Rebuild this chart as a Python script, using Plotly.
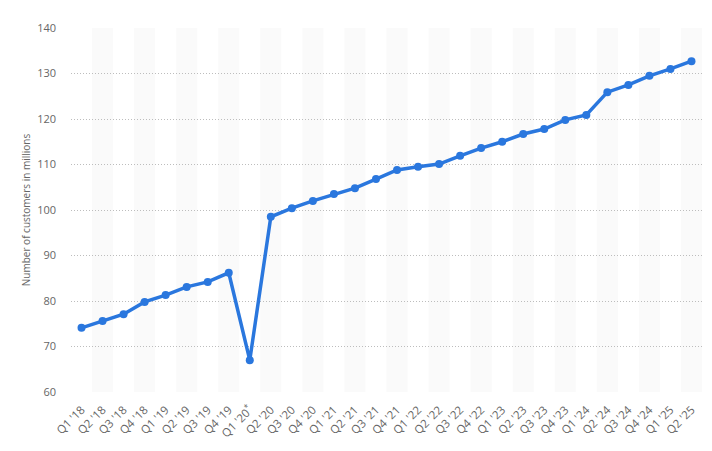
import plotly.graph_objects as go

quarters = ["Q1 '18", "Q2 '18", "Q3 '18", "Q4 '18", "Q1 '19", "Q2 '19", "Q3 '19", "Q4 '19",
            "Q1 '20<sup>*</sup>", "Q2 '20", "Q3 '20", "Q4 '20", "Q1 '21", "Q2 '21", "Q3 '21", "Q4 '21",
            "Q1 '22", "Q2 '22", "Q3 '22", "Q4 '22", "Q1 '23", "Q2 '23", "Q3 '23", "Q4 '23",
            "Q1 '24", "Q2 '24", "Q3 '24", "Q4 '24", "Q1 '25", "Q2 '25"]
customers = [74.1, 75.6, 77.1, 79.8, 81.3, 83.1, 84.2, 86.2,
             67.0, 98.5, 100.4, 102.0, 103.5, 104.8, 106.8, 108.8,
             109.5, 110.1, 111.9, 113.6, 115.0, 116.7, 117.8, 119.8,
             120.9, 125.9, 127.5, 129.5, 131.0, 132.7]
y_ticks = [60, 70, 80, 90, 100, 110, 120, 130, 140]

fig = go.Figure()
fig.add_trace(go.Scatter(
    x=list(range(len(quarters))), y=customers, mode="lines+markers",
    line=dict(color="#2a77de", width=3.5),
    marker=dict(color="#2a77de", size=8),
    hoverinfo="x+y",
))

shapes = []
for i in range(len(quarters)):
    if i % 2 == 1:
        shapes.append(dict(type="rect", xref="x", yref="paper", x0=i - 0.5, x1=i + 0.5,
                           y0=0, y1=1, fillcolor="#fafafa", line=dict(width=0), layer="below"))

# the page body has an 8px default margin, compensated here
fig.update_layout(
    width=712, height=451,
    margin=dict(l=63, r=18, t=20, b=67),
    paper_bgcolor="white", plot_bgcolor="white",
    showlegend=False,
    shapes=shapes,
    font=dict(family="Open Sans, sans-serif", color="#666666", size=11),
    xaxis=dict(
        tickmode="array", tickvals=list(range(len(quarters))), ticktext=quarters,
        tickangle=-45, range=[-0.5, len(quarters) - 0.5], automargin=False,
        showgrid=False, zeroline=False, showline=False, ticks="",
        ticklabelstandoff=8,
        tickfont=dict(size=11.5, color="#666666"),
    ),
    yaxis=dict(
        range=[60, 140], tickvals=y_ticks, showgrid=True, automargin=False,
        gridcolor="#bdbdbd", griddash="1px,2px", gridwidth=1,
        zeroline=False, showline=False, ticks="",
        ticklabelstandoff=14,
        tickfont=dict(size=11, color="#666666"),
        title=dict(text="Number of customers in millions", font=dict(size=10, color="#666666"), standoff=4),
    ),
)

fig.write_html("out.html")
